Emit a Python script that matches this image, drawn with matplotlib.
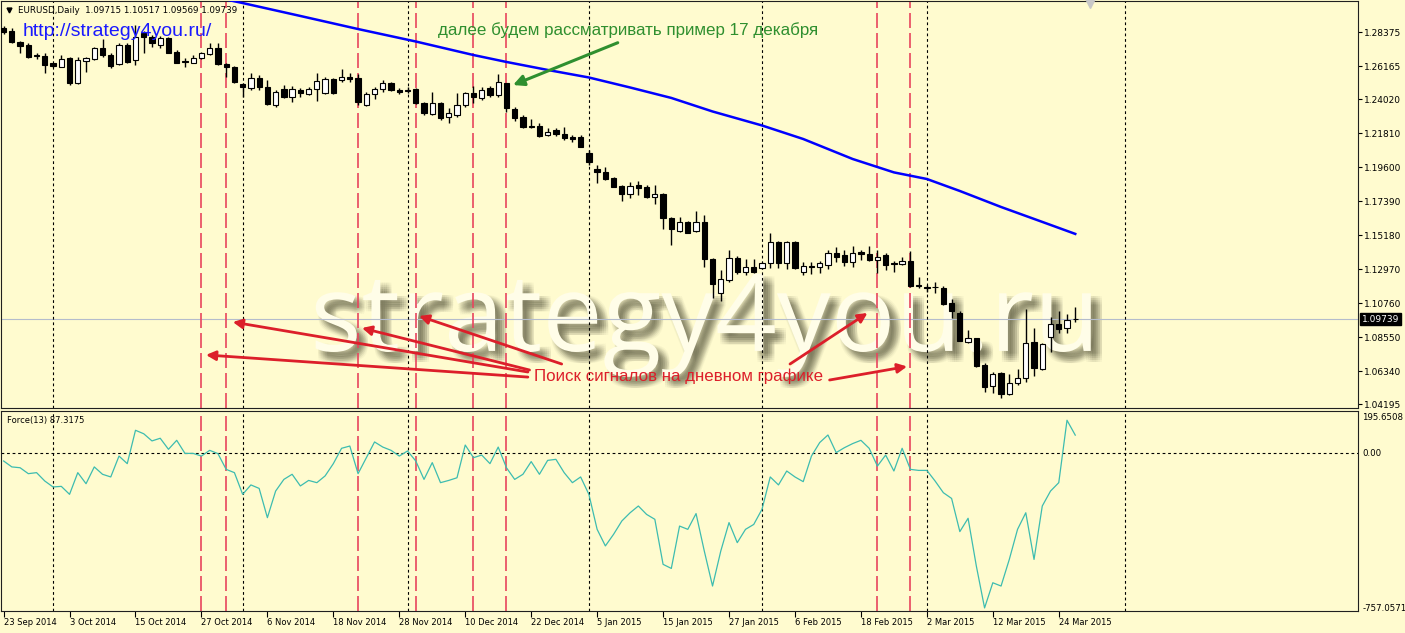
import matplotlib
matplotlib.use("Agg")
import matplotlib.pyplot as plt
import matplotlib.patheffects as pe
import numpy as np

# EURUSD daily candles, bar 0 = 23 Sep 2014
opens = [1.2866, 1.2849, 1.2778, 1.2757, 1.2688, 1.2685, 1.2637, 1.2615, 1.2670, 1.2511,
         1.2654, 1.2664, 1.2735, 1.2692, 1.2633, 1.2757, 1.2659, 1.2833, 1.2810, 1.2757,
         1.2800, 1.2713, 1.2649, 1.2641, 1.2670, 1.2698, 1.2735, 1.2633, 1.2612, 1.2503,
         1.2475, 1.2540, 1.2485, 1.2366, 1.2469, 1.2417, 1.2464, 1.2438, 1.2469, 1.2443,
         1.2535, 1.2529, 1.2550, 1.2540, 1.2366, 1.2438, 1.2469, 1.2508, 1.2464, 1.2461,
         1.2469, 1.2377, 1.2308, 1.2377, 1.2287, 1.2301, 1.2366, 1.2443, 1.2410, 1.2475,
         1.2432, 1.2508, 1.2339, 1.2287, 1.2230, 1.2230, 1.2171, 1.2204, 1.2178, 1.2157,
         1.2160, 1.2056, 1.1949, 1.1933, 1.1894, 1.1840, 1.1788, 1.1847, 1.1832, 1.1767,
         1.1786, 1.1630, 1.1548, 1.1604, 1.1548, 1.1608, 1.1364, 1.1146, 1.1229, 1.1374,
         1.1279, 1.1315, 1.1305, 1.1337, 1.1474, 1.1341, 1.1474, 1.1283, 1.1322, 1.1315,
         1.1326, 1.1402, 1.1391, 1.1348, 1.1409, 1.1396, 1.1359, 1.1391, 1.1339, 1.1333,
         1.1354, 1.1194, 1.1183, 1.1183, 1.1175, 1.1078, 1.1016, 1.0824, 1.0850, 1.0676,
         1.0541, 1.0622, 1.0486, 1.0557, 1.0590, 1.0824, 1.0650, 1.0860, 1.0941, 1.0915,
         1.09715]
highs = [1.2880, 1.2867, 1.2783, 1.2768, 1.2704, 1.2704, 1.2641, 1.2692, 1.2675, 1.2680,
         1.2680, 1.2745, 1.2794, 1.2706, 1.2768, 1.2768, 1.2887, 1.2847, 1.2822, 1.2815,
         1.2805, 1.2724, 1.2670, 1.2692, 1.2713, 1.2768, 1.2768, 1.2641, 1.2620, 1.2511,
         1.2576, 1.2562, 1.2529, 1.2464, 1.2497, 1.2490, 1.2475, 1.2482, 1.2573, 1.2550,
         1.2542, 1.2599, 1.2573, 1.2568, 1.2453, 1.2485, 1.2529, 1.2518, 1.2475, 1.2482,
         1.2475, 1.2388, 1.2453, 1.2386, 1.2345, 1.2443, 1.2453, 1.2490, 1.2485, 1.2490,
         1.2568, 1.2512, 1.2352, 1.2301, 1.2273, 1.2247, 1.2215, 1.2215, 1.2222, 1.2171,
         1.2171, 1.2074, 1.1977, 1.1962, 1.1900, 1.1847, 1.1868, 1.1873, 1.1847, 1.1847,
         1.1794, 1.1640, 1.1637, 1.1614, 1.1677, 1.1652, 1.1372, 1.1294, 1.1424, 1.1385,
         1.1364, 1.1364, 1.1346, 1.1532, 1.1482, 1.1482, 1.1482, 1.1348, 1.1348, 1.1354,
         1.1424, 1.1441, 1.1424, 1.1450, 1.1424, 1.1450, 1.1424, 1.1402, 1.1354, 1.1380,
         1.1419, 1.1246, 1.1197, 1.1218, 1.1186, 1.1106, 1.1029, 1.0904, 1.0852, 1.0689,
         1.0633, 1.0633, 1.0616, 1.0648, 1.1039, 1.0915, 1.0819, 1.0990, 1.1029, 1.1008,
         1.10517]
lows = [1.2830, 1.2770, 1.2703, 1.2670, 1.2666, 1.2574, 1.2614, 1.2610, 1.2497, 1.2503,
        1.2583, 1.2659, 1.2680, 1.2605, 1.2627, 1.2638, 1.2627, 1.2706, 1.2745, 1.2737,
        1.2701, 1.2638, 1.2611, 1.2636, 1.2664, 1.2692, 1.2627, 1.2550, 1.2509, 1.2417,
        1.2464, 1.2464, 1.2366, 1.2355, 1.2410, 1.2388, 1.2420, 1.2432, 1.2394, 1.2438,
        1.2438, 1.2518, 1.2518, 1.2366, 1.2360, 1.2404, 1.2453, 1.2459, 1.2438, 1.2443,
        1.2373, 1.2301, 1.2301, 1.2269, 1.2247, 1.2290, 1.2355, 1.2377, 1.2399, 1.2419,
        1.2420, 1.2323, 1.2264, 1.2215, 1.2217, 1.2160, 1.2167, 1.2165, 1.2139, 1.2124,
        1.2091, 1.1977, 1.1858, 1.1879, 1.1832, 1.1744, 1.1760, 1.1781, 1.1760, 1.1721,
        1.1558, 1.1457, 1.1539, 1.1532, 1.1539, 1.1315, 1.1110, 1.1094, 1.1218, 1.1268,
        1.1261, 1.1272, 1.1300, 1.1305, 1.1305, 1.1299, 1.1300, 1.1261, 1.1268, 1.1272,
        1.1299, 1.1348, 1.1320, 1.1315, 1.1359, 1.1354, 1.1272, 1.1294, 1.1283, 1.1326,
        1.1185, 1.1175, 1.1153, 1.1146, 1.1066, 1.0980, 1.0832, 1.0819, 1.0665, 1.0502,
        1.0492, 1.0460, 1.0481, 1.0547, 1.0568, 1.0605, 1.0646, 1.0757, 1.0883, 1.0886,
        1.09569]
closes = [1.2840, 1.2776, 1.2750, 1.2677, 1.2683, 1.2627, 1.2620, 1.2664, 1.2508, 1.2659,
          1.2670, 1.2735, 1.2692, 1.2620, 1.2757, 1.2648, 1.2810, 1.2807, 1.2768, 1.2800,
          1.2706, 1.2641, 1.2646, 1.2670, 1.2703, 1.2735, 1.2633, 1.2612, 1.2518, 1.2482,
          1.2544, 1.2482, 1.2371, 1.2453, 1.2417, 1.2469, 1.2443, 1.2469, 1.2524, 1.2535,
          1.2443, 1.2550, 1.2535, 1.2388, 1.2438, 1.2471, 1.2508, 1.2464, 1.2453, 1.2457,
          1.2377, 1.2312, 1.2377, 1.2280, 1.2312, 1.2366, 1.2443, 1.2420, 1.2464, 1.2432,
          1.2518, 1.2345, 1.2280, 1.2222, 1.2222, 1.2167, 1.2193, 1.2176, 1.2150, 1.2147,
          1.2095, 1.1994, 1.1933, 1.1886, 1.1835, 1.1788, 1.1840, 1.1825, 1.1767, 1.1786,
          1.1630, 1.1561, 1.1604, 1.1536, 1.1608, 1.1364, 1.1203, 1.1234, 1.1374, 1.1279,
          1.1315, 1.1279, 1.1337, 1.1474, 1.1337, 1.1474, 1.1305, 1.1320, 1.1312, 1.1337,
          1.1402, 1.1380, 1.1348, 1.1406, 1.1396, 1.1359, 1.1377, 1.1326, 1.1335, 1.1354,
          1.1192, 1.1190, 1.1178, 1.1180, 1.1073, 1.1029, 1.0834, 1.0850, 1.0671, 1.0535,
          1.0618, 1.0488, 1.0557, 1.0590, 1.0821, 1.0655, 1.0811, 1.0941, 1.0908, 1.0969,
          1.09739]

# Force(13) indicator
force = [-39, -68, -72, -101, -96, -137, -166, -163, -202, -96,
         -150, -68, -104, -117, -15, -52, 111, 94, 59, 72,
         18, 62, -2, -2, -15, 13, -3, -80, -96, -202,
         -156, -173, -316, -186, -129, -104, -161, -134, -145, -112,
         -52, 23, 34, -101, -23, 54, 29, 13, -15, 10,
         -39, -129, -47, -145, -134, -121, 39, -23, -10, -52,
         29, -72, -129, -104, -42, -104, -36, -31, -96, -145,
         -117, -202, -373, -454, -397, -332, -292, -259, -300, -324,
         -544, -564, -357, -373, -296, -479, -650, -479, -340, -438,
         -373, -349, -275, -117, -156, -88, -117, -140, -15, 51,
         88, 2, 26, 46, 62, 23, -64, -10, -88, 23,
         -80, -85, -85, -137, -194, -222, -384, -319, -552, -757,
         -634, -650, -520, -373, -292, -520, -259, -186, -145, 160,
         87.3175]

# moving average (blue line), read at a few bars
ma_bars = [25, 29, 36, 43, 50, 57, 61, 66, 71, 76, 81, 86, 92, 97, 103, 108, 112, 116, 121, 126, 130]
ma_vals = [1.3075, 1.3029, 1.2945, 1.2860, 1.2779, 1.2691, 1.2646, 1.2594, 1.2545, 1.2480, 1.2412,
           1.2324, 1.2233, 1.2145, 1.2015, 1.1928, 1.1885, 1.1807, 1.1703, 1.1606, 1.1528]

date_bars = list(range(0, 129, 8))
date_labels = ["23 Sep 2014", "3 Oct 2014", "15 Oct 2014", "27 Oct 2014", "6 Nov 2014",
               "18 Nov 2014", "28 Nov 2014", "10 Dec 2014", "22 Dec 2014", "5 Jan 2015",
               "15 Jan 2015", "27 Jan 2015", "6 Feb 2015", "18 Feb 2015", "2 Mar 2015",
               "12 Mar 2015", "24 Mar 2015"]
price_ticks = [1.28375, 1.26165, 1.24020, 1.21810, 1.19600, 1.17390, 1.15180,
               1.12970, 1.10760, 1.08550, 1.06340, 1.04195]
force_ticks = [195.6508, 0.0, -757.0571]
force_tick_labels = ["195.6508", "0.00", "-757.0571"]
month_bars = [6, 29, 49, 71, 92, 112, 136]
signal_bars = [24, 27, 43, 50, 57, 61, 106, 110]
last_price = 1.09739

bg = "#fffbcf"
red = "#dc1f2a"
green = "#2f8f2f"

fig = plt.figure(figsize=(14.05, 6.33), dpi=100, facecolor=bg)
ax = fig.add_axes([1 / 1405, 225 / 633, 1357 / 1405, 407 / 633], facecolor=bg)
axf = fig.add_axes([1 / 1405, 22 / 633, 1357 / 1405, 200 / 633], facecolor=bg, sharex=ax)

# candles
o = np.array(opens)
c = np.array(closes)
x = np.arange(len(o))
up = c >= o
ax.vlines(x, lows, highs, color="black", lw=1, zorder=4)
ax.bar(x, np.maximum(np.abs(c - o), 0.00006), bottom=np.minimum(o, c), width=0.64,
       color=np.where(up, "white", "black"), edgecolor="black", linewidth=0.8, zorder=5)

ax.plot(ma_bars, ma_vals, color="#0000ff", lw=1.8, zorder=3)
ax.axhline(last_price, color="#b4bccc", lw=0.8, zorder=2)

# period separators and signal lines
for a in (ax, axf):
    for b in month_bars:
        a.axvline(b, color="black", lw=0.8, ls=(0, (2.5, 2.5)), zorder=2)
    for b in signal_bars:
        a.axvline(b, color="#e8455e", lw=1.2, ls=(0, (9, 3)), zorder=2)

# force panel
axf.plot(x, force, color="#3dbcb0", lw=0.9, zorder=3)
axf.axhline(0, color="black", lw=0.8, ls=(0, (2.5, 2.5)), zorder=2)

ax.set_xlim(-0.315, 164.3)
ax.set_ylim(1.03960, 1.30423)
axf.set_ylim(-772, 205.2)

ax.yaxis.tick_right()
ax.set_yticks(price_ticks)
ax.set_yticklabels([f"{p:.5f}" for p in price_ticks])
ax.tick_params(axis="y", direction="out", length=3, width=0.8, labelsize=6.5, pad=1.5)
ax.tick_params(axis="x", length=0, labelbottom=False)

axf.yaxis.tick_right()
axf.set_yticks(force_ticks)
axf.set_yticklabels(force_tick_labels)
axf.tick_params(axis="y", length=0, labelsize=6.2, pad=3)
axf.get_yticklabels()[0].set_va("top")
axf.set_xticks(date_bars)
axf.set_xticklabels(date_labels, ha="left")
axf.tick_params(axis="x", direction="out", length=4, width=0.8, labelsize=6, pad=1)

for a in (ax, axf):
    for s in a.spines.values():
        s.set_color("#202020")
        s.set_linewidth(0.8)

ax.text(1.003, last_price, "1.09739", transform=ax.get_yaxis_transform(), color="white",
        fontsize=6.5, va="center", ha="left", clip_on=False, zorder=8,
        bbox=dict(boxstyle="square,pad=0.2", fc="black", ec="black"))
ax.plot([131.8], [1.3030], marker="v", color="#c8c8c8", ms=7, zorder=8, clip_on=False)

# chart header texts
ax.plot([0.0059], [0.978], marker="v", ms=3.5, color="black", transform=ax.transAxes)
ax.text(0.0125, 0.970, "EURUSD,Daily  1.09715 1.10517 1.09569 1.09739",
        transform=ax.transAxes, fontsize=6.3, va="baseline")
ax.text(0.0162, 0.914, "http://strategy4you.ru/", transform=ax.transAxes, color="#1a1aff",
        fontsize=14, family="Liberation Sans", va="baseline", zorder=7)
axf.text(0.0044, 0.94, "Force(13) 87.3175", transform=axf.transAxes, fontsize=6, va="baseline")

# watermark with a soft, blurred-looking shadow
shadow = []
for dx in (2, 3.5, 5, 6.5, 8):
    for dy in (2, 3.5, 5, 6.5, 8):
        shadow.append(pe.SimplePatchShadow(offset=(dx, -dy), shadow_rgbFace="#33331f", alpha=0.035))
shadow.append(pe.Normal())
wm = ax.text(37.2, 1.0767, "strategy4you.ru", family="Open Sans", fontsize=72,
             color="#fffde8", va="baseline", zorder=1, path_effects=shadow)

# annotations
gtxt = ax.text(52.7, 1.2821, "далее будем рассматривать пример 17 декабря", color=green,
               family="Liberation Sans", fontsize=13, va="baseline", zorder=7)
ax.annotate("", xy=(61.8, 1.2496), xytext=(74.5, 1.2771), zorder=7,
            arrowprops=dict(arrowstyle="-|>", color=green, lw=2.2, mutation_scale=16,
                            shrinkA=0, shrinkB=0))
rtxt = ax.text(64.4, 1.0572, "Поиск сигналов на дневном графике", color=red,
               family="Liberation Sans", fontsize=11, va="baseline", zorder=7)
for tail, head in [((63.6, 1.0630), (27.8, 1.0955)),
                   ((63.6, 1.0597), (24.55, 1.0741)),
                   ((63.8, 1.0643), (43.47, 1.0916)),
                   ((67.7, 1.0682), (50.4, 1.0994)),
                   ((95.4, 1.0682), (104.8, 1.1014)),
                   ((100.2, 1.0578), (109.6, 1.0666))]:
    ax.annotate("", xy=head, xytext=tail, zorder=7,
                arrowprops=dict(arrowstyle="-|>", color=red, lw=2, mutation_scale=14,
                                shrinkA=0, shrinkB=0))


def fit_width(t, width_px):
    fig.canvas.draw()
    w = t.get_window_extent().width
    t.set_fontsize(t.get_fontsize() * width_px / w)


fit_width(wm, 790)
fit_width(gtxt, 379)
fit_width(rtxt, 288)

fig.savefig("out.png", dpi=100, facecolor=bg)
